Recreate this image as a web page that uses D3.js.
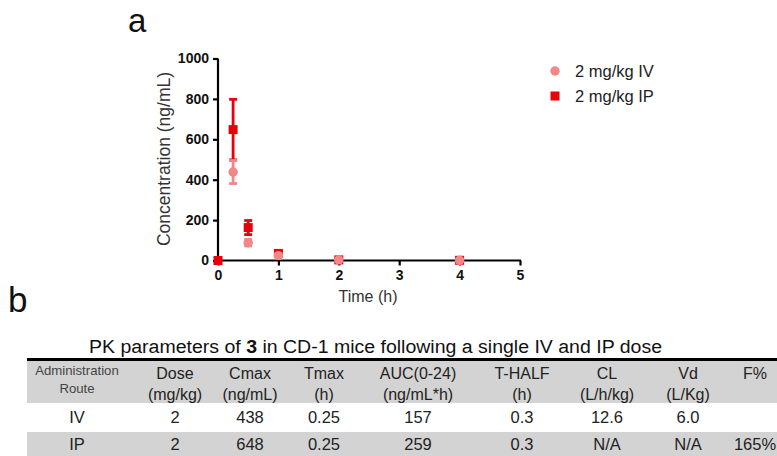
<!DOCTYPE html>
<html>
<head>
<meta charset="utf-8">
<script src="https://cdn.jsdelivr.net/npm/d3@7"></script>
<style>
  body { margin: 0; background: #fff; }
  text { font-family: "Liberation Sans", Arial, sans-serif; }
</style>
</head>
<body>
<div id="chart"></div>
<script>
// chart data
const ivTimes = [0.25, 0.5, 1, 2, 4];
const ivMeans = [438, 88, 24, 3, 1];
const ivErrs = [57, 16, 4, 1, 0];
const ipTimes = [0, 0.25, 0.5, 1, 2, 4];
const ipMeans = [0, 648, 163, 35, 3, 1];
const ipErrs = [0, 150, 35, 5, 1, 0];
const xTicks = [0, 1, 2, 3, 4, 5];
const yTicks = [0, 200, 400, 600, 800, 1000];
const legendLabels = ['2 mg/kg IV', '2 mg/kg IP'];

// table data
const colHead1 = ['Administration', 'Dose', 'Cmax', 'Tmax', 'AUC(0-24)', 'T-HALF', 'CL', 'Vd', 'F%'];
const colHead2 = ['Route', '(mg/kg)', '(ng/mL)', '(h)', '(ng/mL*h)', '(h)', '(L/h/kg)', '(L/Kg)', ''];
const rowIV = ['IV', '2', '438', '0.25', '157', '0.3', '12.6', '6.0', ''];
const rowIP = ['IP', '2', '648', '0.25', '259', '0.3', 'N/A', 'N/A', '165%'];
const colX = [77, 175, 250, 324, 418, 522, 607, 688, 755];

const W = 777, H = 456;
const ivColor = '#f28787';
const ipColor = '#e8000b';

const svg = d3.select('#chart').append('svg').attr('width', W).attr('height', H);

// panel letters
svg.append('text').attr('x', 128).attr('y', 32).attr('font-size', 33).attr('fill', '#111').text('a');
svg.append('text').attr('x', 8).attr('y', 312).attr('font-size', 35).attr('fill', '#111').text('b');

const x = d3.scaleLinear().domain([0, 5]).range([218, 520]);
const y = d3.scaleLinear().domain([0, 1000]).range([260.5, 58.5]);

const xAxis = svg
  .append('g')
  .attr('transform', `translate(0,${y(0)})`)
  .call(d3.axisBottom(x).tickValues(xTicks).tickSize(5).tickPadding(5).tickFormat(d3.format('d')));
const yAxis = svg
  .append('g')
  .attr('transform', `translate(${x(0)},0)`)
  .call(d3.axisLeft(y).tickValues(yTicks).tickSize(5).tickPadding(4).tickFormat(d3.format('d')));

[xAxis, yAxis].forEach(ax => {
  ax.select('.domain').attr('stroke', '#000').attr('stroke-width', 2.2);
  ax.selectAll('.tick line').attr('stroke', '#000').attr('stroke-width', 2.2);
  ax.selectAll('.tick text')
    .attr('fill', '#111')
    .style('font-family', '"Liberation Sans", Arial, sans-serif')
    .style('font-size', '14px')
    .style('font-weight', 'bold');
});
// strip outer tick of domain path so axes meet cleanly
xAxis.select('.domain').attr('d', `M${x(0)},0H${x(5) + 1}`);
yAxis.select('.domain').attr('d', `M0,${y(0) + 1}V${y(1000)}`);

svg.append('text')
  .attr('x', 368).attr('y', 302)
  .attr('text-anchor', 'middle')
  .attr('font-size', 16).attr('fill', '#333')
  .text('Time (h)');
svg.append('text')
  .attr('transform', 'translate(170,159) rotate(-90)')
  .attr('text-anchor', 'middle')
  .attr('font-size', 17.5).attr('fill', '#333')
  .text('Concentration (ng/mL)');

function drawSeries(times, means, errs, color, shape) {
  const g = svg.append('g');
  const pts = times.map((t, i) => ({ t, m: means[i], e: errs[i] }));
  const withErr = pts.filter(d => d.e > 0);
  g.selectAll('line.bar').data(withErr).join('line')
    .attr('x1', d => x(d.t)).attr('x2', d => x(d.t))
    .attr('y1', d => y(d.m - d.e)).attr('y2', d => y(d.m + d.e))
    .attr('stroke', color).attr('stroke-width', 2.8);
  g.selectAll('line.cap').data(withErr.flatMap(d => [d.m - d.e, d.m + d.e].map(v => ({ t: d.t, v }))))
    .join('line')
    .attr('x1', d => x(d.t) - 4).attr('x2', d => x(d.t) + 4)
    .attr('y1', d => y(d.v)).attr('y2', d => y(d.v))
    .attr('stroke', color).attr('stroke-width', 2.8);
  const sym = d3.symbol().type(shape === 'square' ? d3.symbolSquare : d3.symbolCircle).size(shape === 'square' ? 81 : 70);
  g.selectAll('path.pt').data(pts).join('path')
    .attr('transform', d => `translate(${x(d.t)},${y(d.m)})`)
    .attr('d', sym)
    .attr('fill', color);
}

drawSeries(ipTimes, ipMeans, ipErrs, ipColor, 'square');
drawSeries(ivTimes, ivMeans, ivErrs, ivColor, 'circle');

// legend
const legend = svg.append('g');
legend.append('path').attr('transform', 'translate(555,71)').attr('d', d3.symbol().type(d3.symbolCircle).size(70)).attr('fill', ivColor);
legend.append('path').attr('transform', 'translate(555,96)').attr('d', d3.symbol().type(d3.symbolSquare).size(81)).attr('fill', ipColor);
legend.selectAll('text').data(legendLabels).join('text')
  .attr('x', 575).attr('y', (d, i) => 77 + i * 25)
  .attr('font-size', 16.5).attr('fill', '#222')
  .text(d => d);

// table
const title = svg.append('text')
  .attr('x', 89).attr('y', 353)
  .attr('font-size', 18).attr('fill', '#111')
  .attr('textLength', 573).attr('lengthAdjust', 'spacingAndGlyphs');
title.append('tspan').text('PK parameters of ');
title.append('tspan').attr('font-weight', 'bold').text('3');
title.append('tspan').text(' in CD-1 mice following a single IV and IP dose');

svg.append('rect').attr('x', 27).attr('y', 361).attr('width', W - 27).attr('height', 42).attr('fill', '#d3d3d3');
svg.append('rect').attr('x', 27).attr('y', 432).attr('width', W - 27).attr('height', 24).attr('fill', '#d3d3d3');
svg.append('line').attr('x1', 27).attr('x2', W).attr('y1', 359.5).attr('y2', 359.5).attr('stroke', '#000').attr('stroke-width', 3.2);

const cells = svg.append('g').attr('text-anchor', 'middle').attr('fill', '#222');
colHead1.forEach((h, i) => {
  cells.append('text')
    .attr('x', colX[i]).attr('y', i === 0 ? 375 : 379)
    .attr('font-size', i === 0 ? 13.2 : 16)
    .attr('fill', i === 0 ? '#444' : '#222')
    .text(h);
  if (colHead2[i]) {
    cells.append('text')
      .attr('x', colX[i]).attr('y', i === 0 ? 393 : 400)
      .attr('font-size', i === 0 ? 13.2 : 16)
      .attr('fill', i === 0 ? '#444' : '#222')
      .text(colHead2[i]);
  }
});
[rowIV, rowIP].forEach((row, r) => {
  row.forEach((v, i) => {
    if (!v) return;
    cells.append('text')
      .attr('x', colX[i]).attr('y', r === 0 ? 423 : 450)
      .attr('font-size', 16.5)
      .text(v);
  });
});
</script>
</body>
</html>
